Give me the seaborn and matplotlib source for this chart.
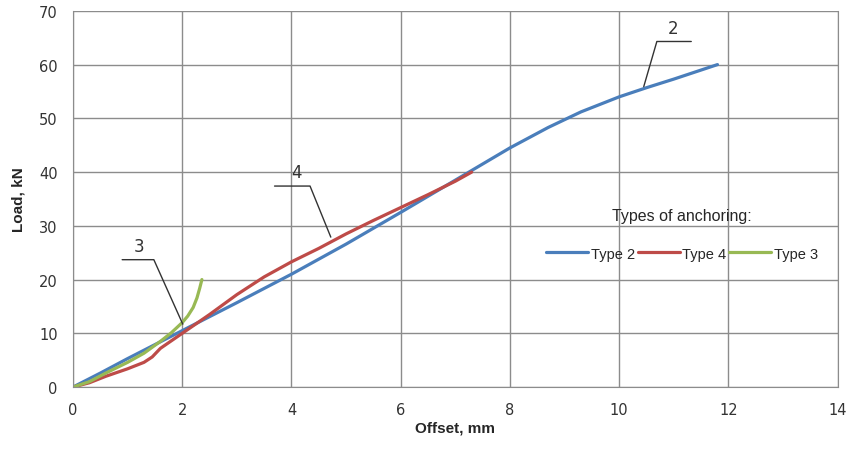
import pandas as pd
import numpy as np
import matplotlib.pyplot as plt
import seaborn as sns

sns.set_style('white')
plt.rcParams['font.family'] = ['DejaVu Sans']

# 데이터
type2_x = [0, 0.5, 1.0, 1.5, 2.0, 3.0, 4.0, 5.0, 6.0, 7.0, 8.0, 8.7, 9.3, 10.0, 10.5, 11.0, 11.8]
type2_y = [0, 2.6, 5.3, 7.9, 10.5, 15.7, 21.0, 26.6, 32.5, 38.5, 44.5, 48.3, 51.2, 54.0, 55.7, 57.3, 60.0]
type4_x = [0, 0.3, 0.6, 1.0, 1.3, 1.45, 1.6, 1.8, 2.0, 2.5, 3.0, 3.5, 4.0, 4.5, 5.0, 5.5, 6.0, 6.5, 7.0, 7.3]
type4_y = [0, 0.8, 2.0, 3.4, 4.6, 5.6, 7.2, 8.6, 10.0, 13.5, 17.2, 20.5, 23.3, 25.8, 28.5, 31.0, 33.4, 35.8, 38.3, 40.0]
type3_x = [0, 0.3, 0.6, 1.0, 1.3, 1.6, 1.8, 2.0, 2.1, 2.2, 2.27, 2.32, 2.36]
type3_y = [0, 1.0, 2.6, 4.6, 6.3, 8.5, 10.1, 12.0, 13.2, 14.8, 16.6, 18.4, 20.0]

series = ['Type 2', 'Type 4', 'Type 3']
colors = ['#4a7ebb', '#be4b48', '#98b954']

df = pd.concat([
    pd.DataFrame({'x': type2_x, 'y': type2_y, 'type': 'Type 2'}),
    pd.DataFrame({'x': type4_x, 'y': type4_y, 'type': 'Type 4'}),
    pd.DataFrame({'x': type3_x, 'y': type3_y, 'type': 'Type 3'}),
])

fig = plt.figure(figsize=(8.63, 4.56), dpi=100)
ax = fig.add_axes([0.0846, 0.149, 0.886, 0.825])

sns.lineplot(data=df, x='x', y='y', hue='type', hue_order=series,
             palette=colors, linewidth=2.3, sort=False, estimator=None, ax=ax)

ax.set_xlim(0, 14)
ax.set_ylim(0, 70)
ax.set_xticks(range(0, 15, 2))
ax.set_yticks(range(0, 71, 10))
ax.grid(True, color='#8c8c8c', linewidth=1.0)
ax.set_axisbelow(True)
ax.spines['top'].set_visible(False)
for s in ['left', 'bottom', 'right']:
    ax.spines[s].set_color('#8c8c8c')
ax.tick_params(axis='both', direction='out', length=5, color='#8c8c8c',
               labelsize=10.5, labelcolor='#333333', pad=6)

ax.set_xlabel('Offset, mm', fontsize=11, fontweight='bold', family='Liberation Sans', labelpad=2)
ax.set_ylabel('Load, kN', fontsize=11, fontweight='bold', family='Liberation Sans', labelpad=10)

# 번호 표시 (지시선)
lines = [
    ([10.45, 10.69, 11.32], [55.9, 64.3, 64.3], '2', 10.99, 65.2),
    ([4.72, 4.34, 3.69], [27.9, 37.4, 37.4], '4', 4.1, 38.3),
    ([2.01, 1.48, 0.9], [11.7, 23.7, 23.7], '3', 1.21, 24.6),
]
for lx, ly, label, tx, ty in lines:
    ax.plot(lx, ly, color='#333333', linewidth=1.0)
    ax.text(tx, ty, label, fontsize=12, ha='center', va='bottom', color='#333333')

ax.legend(title='Types of anchoring:', ncol=3, frameon=False, loc='center',
          bbox_to_anchor=(11.15, 28.4), bbox_transform=ax.transData,
          prop={'family': 'Liberation Sans', 'size': 10.5},
          title_fontproperties={'family': 'Liberation Sans', 'size': 11.5},
          handlelength=2.9, handletextpad=0.15, columnspacing=0.2, borderpad=0,
          labelspacing=1.6)

fig.savefig('out.png', dpi=100)
